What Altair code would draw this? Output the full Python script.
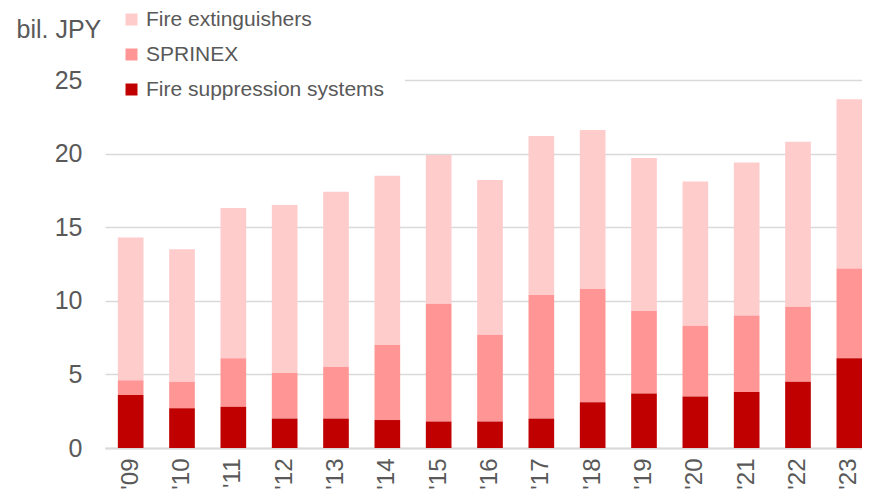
import altair as alt
import pandas as pd

years = ["'09", "'10", "'11", "'12", "'13", "'14", "'15", "'16", "'17", "'18", "'19", "'20", "'21", "'22", "'23"]
fire_suppression = [3.6, 2.7, 2.8, 2.0, 2.0, 1.9, 1.8, 1.8, 2.0, 3.1, 3.7, 3.5, 3.8, 4.5, 6.1]
sprinex = [1.0, 1.8, 3.3, 3.1, 3.5, 5.1, 8.0, 5.9, 8.4, 7.7, 5.6, 4.8, 5.2, 5.1, 6.1]
fire_extinguishers = [9.7, 9.0, 10.2, 11.4, 11.9, 11.5, 10.1, 10.5, 10.8, 10.8, 10.4, 9.8, 10.4, 11.2, 11.5]

series_names = ["Fire extinguishers", "SPRINEX", "Fire suppression systems"]
series_colors = ["#FFCCCC", "#FF9595", "#C00000"]
stack_rank = [2, 1, 0]

rows = []
for i, yr in enumerate(years):
    for name, vals, rk in zip(series_names, [fire_extinguishers, sprinex, fire_suppression], stack_rank):
        rows.append({"year": yr, "series": name, "value": vals[i], "rank": rk})
df = pd.DataFrame(rows)

grey = "#595959"
font = "Liberation Sans"

chart = alt.Chart(df).mark_bar().encode(
    x=alt.X(
        "year:N",
        sort=years,
        scale=alt.Scale(range=[0, 770], paddingInner=0.5, paddingOuter=0.25),
        axis=alt.Axis(
            title=None, labelAngle=270, labelFontSize=24, labelColor=grey, labelFont=font,
            labelPadding=10, ticks=False, tickSize=0, domainColor="#D9D9D9", domainWidth=2,
        ),
    ),
    y=alt.Y(
        "value:Q",
        stack="zero",
        scale=alt.Scale(domain=[0, 25], nice=False),
        axis=alt.Axis(
            values=[0, 5, 10, 15, 20, 25],
            title="bil. JPY", titleAngle=0, titleAlign="left", titleBaseline="alphabetic",
            titleX=-89, titleY=-43, titleFontSize=25, titleFontWeight="normal",
            titleColor=grey, titleFont=font,
            labelFontSize=25, labelColor=grey, labelFont=font, labelPadding=23,
            ticks=False, tickSize=0, domain=False, gridColor="#D9D9D9", gridWidth=1.5,
        ),
    ),
    color=alt.Color(
        "series:N",
        scale=alt.Scale(domain=series_names, range=series_colors),
        legend=alt.Legend(
            title=None, orient="none", legendX=-4, legendY=-91,
            symbolType="square", symbolSize=144, symbolStrokeWidth=0,
            labelFontSize=21, labelColor=grey, labelFont=font, labelLimit=0,
            rowPadding=13, labelOffset=4, padding=20, fillColor="white",
        ),
    ),
    order=alt.Order("rank:Q"),
).properties(
    width=757,
    height=368,
    autosize=alt.AutoSizeParams(type="none"),
    padding={"left": 97, "top": 72, "right": 0, "bottom": 42},
).configure_view(stroke=None)

chart.save("out.html", embed_options={"renderer": "svg", "actions": False})
